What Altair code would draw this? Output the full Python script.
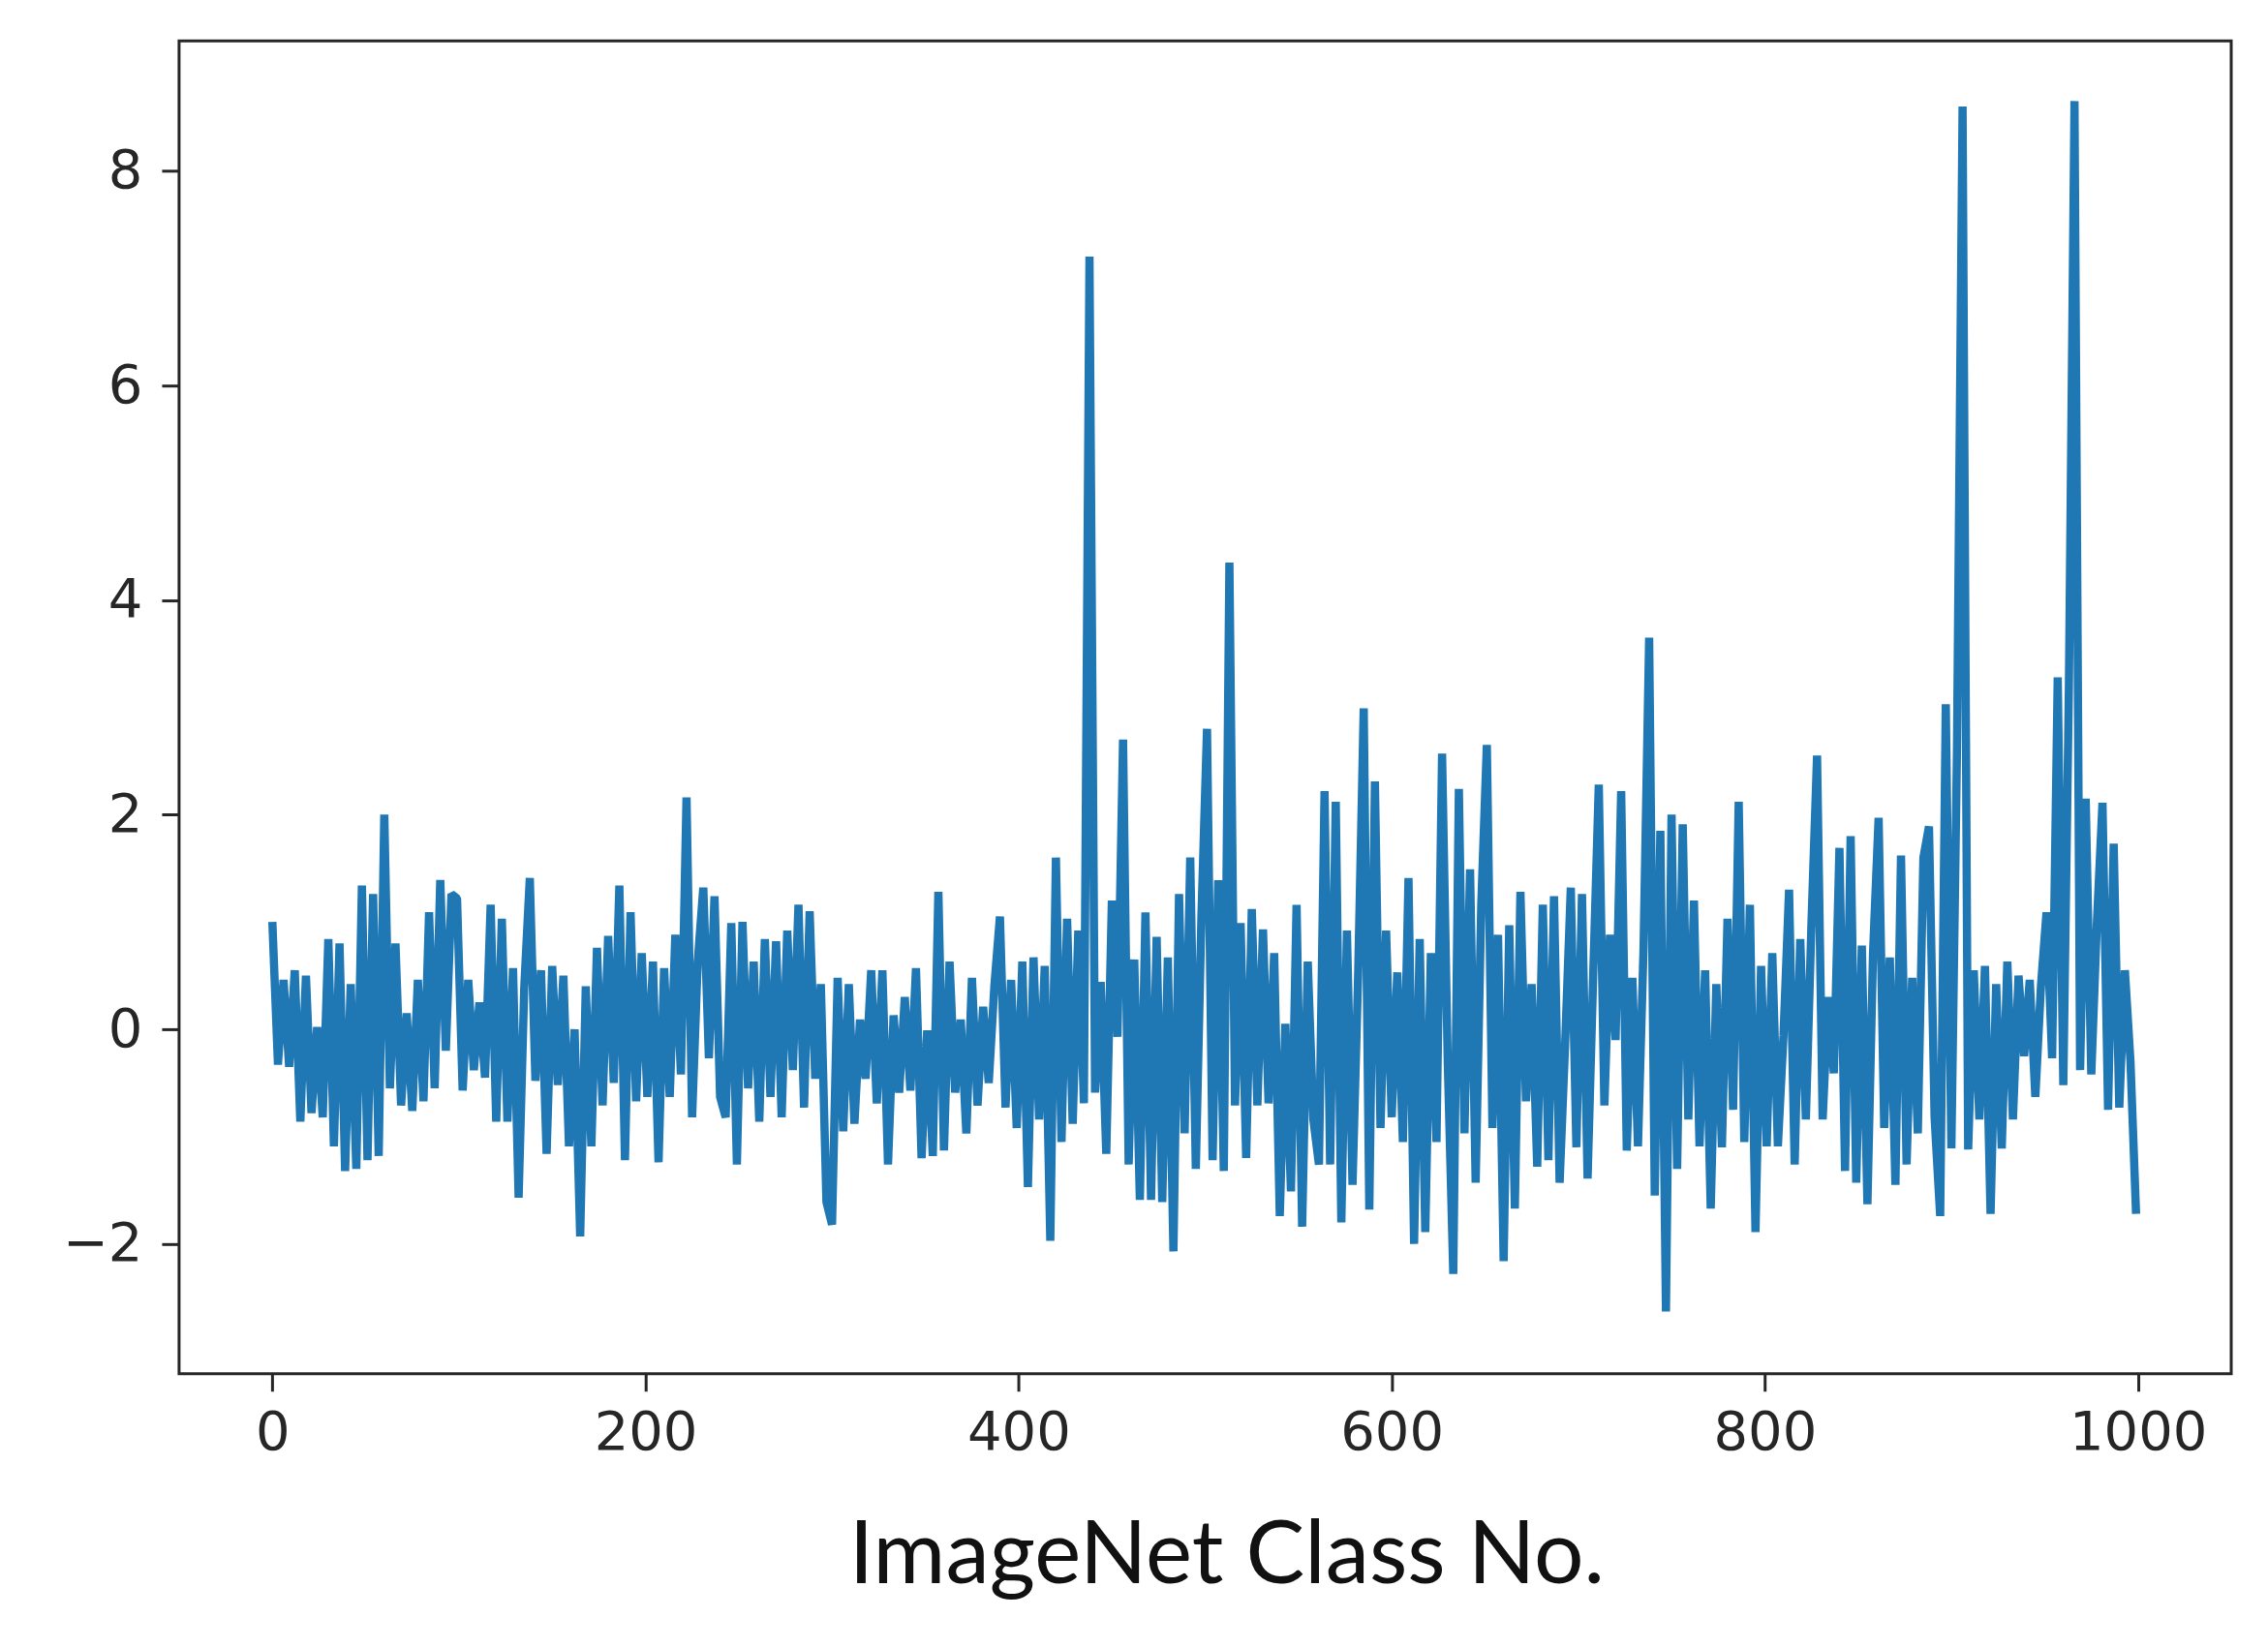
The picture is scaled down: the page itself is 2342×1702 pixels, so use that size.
import altair as alt
import pandas as pd

# Values, one list per stretch of classes (step of 3 classes)
score_000 = [1.0, -0.33, 0.46, -0.35, 0.55, -0.86, 0.5, -0.78, 0.02, -0.82, 0.84, -1.09, 0.8, -1.32,
             0.42, -1.3, 1.34, -1.22, 1.26, -1.18, 2.0, -0.55, 0.8, -0.71, 0.15, -0.76, 0.46, -0.67,
             1.09, -0.55, 1.39, -0.2, 1.26]
score_099 = [1.22, -0.57, 0.46, -0.38, 0.25, -0.45, 1.16, -0.86, 1.03, -0.86, 0.57, -1.57, 0.38, 1.41,
             -0.48, 0.55, -1.16, 0.59, -0.52, 0.5, -1.09, 0.0, -1.93, 0.4, -1.09, 0.76, -0.71, 0.87,
             -0.5, 1.34, -1.22, 1.09, -0.67, 0.71]
score_201 = [-0.63, 0.63, -1.24, 0.57, -0.63, 0.88, -0.42, 2.16, -0.82, 0.63, 1.32, -0.27, 1.24, -0.63,
             -0.82, 0.99, -1.26, 1.0, -0.55, 0.63, -0.86, 0.84, -0.63, 0.82, -0.82, 0.92, -0.38, 1.16,
             -0.73, 1.1, -0.46, 0.42, -1.61]
score_300 = [-1.82, 0.48, -0.95, 0.42, -0.88, 0.09, -0.46, 0.55, -0.69, 0.55, -1.26, 0.13, -0.59, 0.3,
             -0.57, 0.57, -1.2, -0.01, -1.18, 1.28, -1.13, 0.63, -0.59, 0.09, -0.97, 0.48, -0.71, 0.21,
             -0.5, 0.4, 1.05, -0.73, 0.46, -0.92]
score_402 = [0.63, -1.47, 0.67, -0.84, 0.59, -1.97, 1.6, -1.05, 1.03, -0.88, 0.92, -0.69, 7.2, -0.59,
             0.44, -1.16, 1.2, -0.07, 2.7, -1.26, 0.65, -1.59, 1.09, -1.59, 0.86, -1.61, 0.67, -2.07,
             1.26, -0.97, 1.6, -1.3, 1.05, 2.8]
score_504 = [-1.22, 1.39, -1.32, 4.35, -0.71, 0.99, -1.2, 1.12, -0.71, 0.93, -0.69, 0.71, -1.74, 0.05,
             -1.51, 1.16, -1.84, 0.63, -0.84, -1.26, 2.22, -1.26, 2.12, -1.8, 0.92, -1.45, 0.5, 2.99,
             -1.68, 2.31, -0.92, 0.92, -0.82]
score_603 = [0.53, -1.05, 1.41, -2.0, 0.84, -1.89, 0.71, -1.05, 2.57, -0.27, -2.28, 2.24, -0.97, 1.49,
             -1.43, 1.16, 2.65, -0.92, 0.88, -2.16, 0.97, -1.67, 1.28, -0.67, 0.42, -1.28, 1.16, -1.22,
             1.24, -1.43, -0.12, 1.32, -1.1]
score_702 = [1.26, -1.39, 0.5, 2.28, -0.71, 0.88, -0.1, 2.22, -1.13, 0.48, -1.09, 0.76, 3.65, -1.55,
             1.85, -2.63, 2.0, -1.3, 1.91, -0.84, 1.2, -1.09, 0.55, -1.67, 0.42, -1.1, 1.03, -0.75,
             2.12, -1.05, 1.16, -1.89, 0.59, -1.09]
score_804 = [0.71, -1.09, -0.06, 1.3, -1.26, 0.84, -0.84, 0.99, 2.55, -0.84, 0.3, -0.41, 1.69, -1.32,
             1.8, -1.43, 0.78, -1.63, 0.71, 1.97, -0.92, 0.67, -1.45, 1.62, -1.26, 0.48, -0.97, 1.6,
             1.89, -0.82, -1.74, 3.03, -1.11, 2.6]
score_906 = [8.6, -1.12, 0.55, -0.84, 0.59, -1.72, 0.42, -1.11, 0.63, -0.84, 0.5, -0.25, 0.46, -0.63,
             0.4, 1.09, -0.27, 3.28, -0.52, 3.2, 8.65, -0.38, 2.15, -0.42, 0.99, 2.11, -0.75, 1.73,
             -0.73, 0.55, -0.3, -1.72]

segment_starts = [0, 99, 201, 300, 402, 504, 603, 702, 804, 906]
segment_scores = [score_000, score_099, score_201, score_300, score_402, score_504,
                  score_603, score_702, score_804, score_906]

x_ticks = [0, 200, 400, 600, 800, 1000]
y_ticks = [-2, 0, 2, 4, 6, 8]

class_no, score = [], []
for start, vals in zip(segment_starts, segment_scores):
    for i, v in enumerate(vals):
        class_no.append(start + 3 * i)
        score.append(v)

df = pd.DataFrame({"class_no": class_no, "score": score})

ink = "#262626"

chart = alt.Chart(df).mark_line(
    color="#1f77b4", strokeWidth=8.5, strokeJoin="bevel", clip=True
).encode(
    x=alt.X(
        "class_no:Q",
        scale=alt.Scale(domain=[-50, 1050], nice=False, zero=False),
        axis=alt.Axis(
            values=x_ticks, format="d", title="ImageNet Class No.", grid=False, domain=False,
            tickSize=18, tickWidth=3, tickColor=ink,
            labelFont="DejaVu Sans", labelFontSize=56, labelColor=ink, labelPadding=16,
            labelFlush=False, labelOverlap=False,
            titleFont="Lato", titleFontSize=91, titleFontWeight="normal", titleColor="#111111",
            titleX=1082, titleY=216, titleBaseline="alphabetic", titleAlign="center",
        ),
    ),
    y=alt.Y(
        "score:Q",
        scale=alt.Scale(domain=[-3.21, 9.21], nice=False, zero=False),
        axis=alt.Axis(
            values=y_ticks, title=None, grid=False, domain=False,
            tickSize=18, tickWidth=3, tickColor=ink,
            labelFont="DejaVu Sans", labelFontSize=56, labelColor=ink, labelPadding=20,
            labelOverlap=False,
        ),
    ),
).properties(
    width=2120,
    height=1377,
    autosize=alt.AutoSizeParams(type="none"),
    padding={"left": 177, "top": 34, "right": 30, "bottom": 270},
    background="white",
).configure_view(stroke=ink, strokeWidth=3)

chart.save("out.html", embed_options={"renderer": "svg", "actions": False})
